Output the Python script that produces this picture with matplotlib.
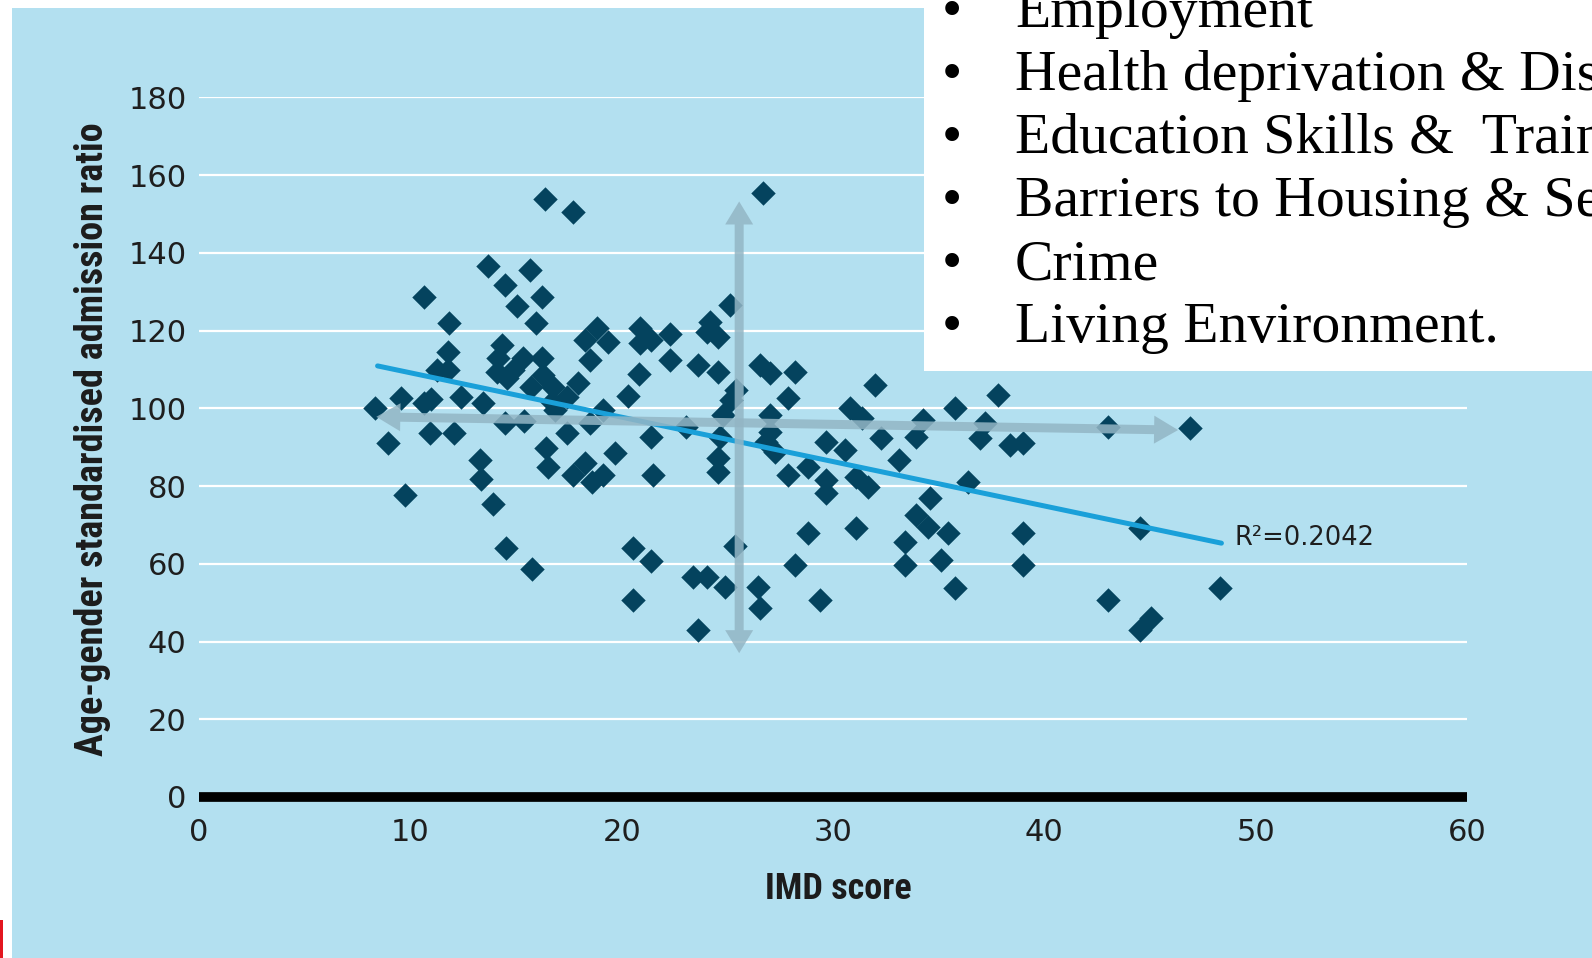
import matplotlib
matplotlib.use("Agg")
import matplotlib.pyplot as plt
from matplotlib import font_manager as fm
from matplotlib.patches import Rectangle, Polygon
from matplotlib.transforms import IdentityTransform
import numpy as np

# ---------------- data ----------------
imd_score = [
    8.33, 8.96, 9.54, 9.74, 10.64, 10.64, 11.00, 10.93, 11.24, 11.79, 11.79, 11.84,
    12.06, 12.39, 13.29, 13.33, 13.45, 13.69, 13.92, 14.08, 14.16, 14.32, 14.47, 14.47,
    14.51, 14.56, 14.87, 15.06, 15.34, 15.37, 15.66, 15.73, 15.78, 15.94, 16.21, 16.21,
    16.29, 16.37, 16.40, 16.52, 16.68, 16.76, 16.84, 17.39, 17.39, 17.68, 17.71, 17.94,
    18.26, 18.26, 18.49, 18.50, 18.58, 18.81, 19.13, 19.13, 19.36, 19.68, 20.31, 20.54,
    20.54, 20.83, 20.86, 20.86, 21.41, 21.41, 21.41, 21.46, 22.31, 22.31, 23.06, 23.38,
    23.62, 23.62, 24.02, 24.02, 24.17, 24.56, 24.56, 24.56, 24.56, 24.65, 24.80, 24.88,
    25.12, 25.19, 25.35, 25.43, 26.46, 26.54, 26.54, 26.70, 26.85, 27.01, 27.01, 27.00,
    27.25, 27.88, 27.88, 28.19, 28.19, 28.82, 28.82, 29.38, 29.69, 29.69, 29.69, 30.56,
    30.79, 31.11, 31.11, 31.35, 31.66, 31.98, 32.29, 33.13, 33.39, 33.39, 33.95, 33.95,
    34.26, 34.50, 34.58, 35.13, 35.45, 35.76, 35.76, 36.39, 36.94, 37.18, 37.81, 38.36,
    38.99, 38.99, 38.99, 43.01, 43.01, 44.51, 44.51, 45.06, 46.91, 48.33,
]
admission_ratio = [
    100.2, 91.0, 102.6, 77.7, 128.5, 101.4, 102.3, 93.6, 109.9, 109.9, 114.6, 122.0,
    93.6, 103.0, 86.7, 81.7, 101.4, 136.6, 75.4, 109.4, 112.9, 116.3, 131.7, 96.1,
    64.0, 107.7, 109.9, 126.3, 112.9, 96.6, 135.6, 105.6, 58.6, 122.0, 128.5, 112.9,
    108.6, 153.8, 89.7, 85.0, 101.7, 105.6, 99.6, 103.0, 93.6, 150.4, 82.8, 106.4,
    117.6, 85.8, 112.4, 96.1, 81.1, 120.6, 99.6, 82.8, 117.1, 88.4, 103.2, 64.0,
    50.7, 108.8, 120.6, 116.7, 117.6, 92.7, 60.8, 82.8, 119.1, 112.4, 95.3, 56.5,
    111.1, 43.0, 119.7, 56.5, 122.3, 118.4, 109.4, 87.1, 83.7, 92.7, 98.3, 53.9,
    126.6, 102.1, 64.6, 104.7, 54.1, 48.5, 111.1, 155.4, 91.4, 109.0, 98.3, 94.0,
    88.8, 102.6, 82.8, 109.4, 59.7, 85.0, 67.8, 50.7, 91.4, 81.6, 78.1, 89.3,
    100.0, 82.4, 69.1, 97.4, 79.8, 106.0, 92.3, 86.7, 65.7, 59.7, 92.7, 72.5,
    97.0, 69.5, 76.8, 61.0, 67.8, 100.0, 53.7, 81.1, 92.3, 96.1, 103.4, 90.6,
    91.0, 67.8, 59.7, 95.3, 50.7, 69.1, 43.0, 46.0, 94.9, 53.7,
]
trend_x = [8.45, 48.38]
trend_y = [110.9, 65.3]
r2_label = "R\u00b2=0.2042"

x_ticks = [0, 10, 20, 30, 40, 50, 60]
y_ticks = [0, 20, 40, 60, 80, 100, 120, 140, 160, 180]
x_label = "IMD score"
y_label = "Age-gender standardised admission ratio"

# annotation arrows (data coordinates of the two tips)
h_arrow = [(8.39, 97.8), (46.33, 94.4)]
v_arrow = [(25.56, 153.2), (25.56, 37.0)]

bullet_items = [
    "Employment",
    "Health deprivation & Disability",
    "Education Skills &  Training",
    "Barriers to Housing & Services",
    "Crime",
    "Living Environment.",
]

# ---------------- style ----------------
avail = {f.name for f in fm.fontManager.ttflist}


def pick(*names):
    for n in names:
        if n in avail:
            return n
    return "DejaVu Sans"


COND = pick("Liberation Sans Narrow", "Roboto Condensed", "DejaVu Sans")
SERIF = pick("Liberation Serif", "DejaVu Serif")

BG = "#b3e0f0"
MARK = "#04435e"
TREND = "#1aa0d9"
ARROW = "#93b6c5"
TXT = "#1e1e1e"

W, H = 1592, 958
fig = plt.figure(figsize=(W / 100, H / 100), dpi=100, facecolor="white")

# light-blue panel and red edge mark
fig.patches.append(Rectangle((12 / W, 0), 1, (H - 8) / H, transform=fig.transFigure,
                             facecolor=BG, edgecolor="none", zorder=-2))
fig.patches.append(Rectangle((0, 0), 3 / W, 38 / H, transform=fig.transFigure,
                             facecolor="#e3161f", edgecolor="none", zorder=-1))

ax_left, ax_right, ax_top, ax_bot = 199, 1467, 97.3, 797
ax = fig.add_axes([ax_left / W, (H - ax_bot) / H, (ax_right - ax_left) / W,
                   (ax_bot - ax_top) / H])
ax.set_facecolor("none")
ax.set_xlim(0, 60)
ax.set_ylim(0, 180)
for s in ax.spines.values():
    s.set_visible(False)
ax.set_xticks(x_ticks)
ax.set_yticks(y_ticks)
ax.set_axisbelow(True)
ax.yaxis.grid(True, color="white", lw=1.6)
ax.xaxis.grid(False)
ax.tick_params(axis="both", length=0, labelsize=22, colors=TXT)
ax.tick_params(axis="y", pad=9)
ax.tick_params(axis="x", pad=15)
ax.axhline(0, color="black", lw=7, solid_capstyle="butt", clip_on=False, zorder=2)

ax.scatter(imd_score, admission_ratio, marker="D", s=155, color=MARK,
           linewidths=0, zorder=3)
ax.plot(trend_x, trend_y, color=TREND, lw=3.6, solid_capstyle="round", zorder=4)
ax.text(trend_x[1] + 0.6, trend_y[1] + 1.2, r2_label, fontsize=18.5, color=TXT,
        ha="left", va="center", zorder=6)


def double_arrow(ax, p0, p1, shaft_px, head_w_px, head_len_px, **kw):
    a = ax.transData.transform(p0)
    b = ax.transData.transform(p1)
    d = b - a
    u = d / np.hypot(*d)
    n = np.array([-u[1], u[0]])
    s = shaft_px / 2
    h = head_w_px / 2
    L = head_len_px
    pts = [a, a + u * L + n * h, a + u * L + n * s, b - u * L + n * s,
           b - u * L + n * h, b, b - u * L - n * h, b - u * L - n * s,
           a + u * L - n * s, a + u * L - n * h]
    poly = Polygon(pts, closed=True, transform=IdentityTransform(), **kw)
    ax.add_patch(poly)
    poly.set_clip_on(False)


double_arrow(ax, h_arrow[0], h_arrow[1], 9, 28, 24, facecolor=ARROW,
             edgecolor="none", alpha=0.85, zorder=5)
double_arrow(ax, v_arrow[0], v_arrow[1], 9, 28, 23, facecolor=ARROW,
             edgecolor="none", alpha=0.85, zorder=5)

# axis labels
renderer = fig.canvas.get_renderer()


def fit(t, target, dim):
    bb = t.get_window_extent(renderer)
    cur = bb.width if dim == "w" else bb.height
    t.set_fontsize(t.get_fontsize() * target / cur)


yl = fig.text(93 / W, 1 - 439 / H, y_label, rotation=90, ha="center", va="center",
              fontweight="bold", family=COND, fontsize=24, color="#1c1c1c")
fit(yl, 634, "h")
xl = fig.text(838 / W, 1 - 889 / H, x_label, ha="center", va="center",
              fontweight="bold", family=COND, fontsize=18, color="#1c1c1c")
fit(xl, 147, "w")

# white text box with bullet list
fig.patches.append(Rectangle((924 / W, (H - 371) / H), (W - 924) / W, 371 / H,
                             transform=fig.transFigure, facecolor="white",
                             edgecolor="none", zorder=10))
baselines = [27, 90, 153, 216, 279, 342]
for item, bl in zip(bullet_items, baselines):
    fig.text(952 / W, 1 - bl / H, "\u2022", ha="center", va="baseline",
             fontsize=41.5, family=SERIF, color="black", zorder=11)
    fig.text(1015 / W, 1 - bl / H, item, ha="left", va="baseline",
             fontsize=41.5, family=SERIF, color="black", zorder=11)

fig.savefig("out.png", dpi=100, facecolor="white")
